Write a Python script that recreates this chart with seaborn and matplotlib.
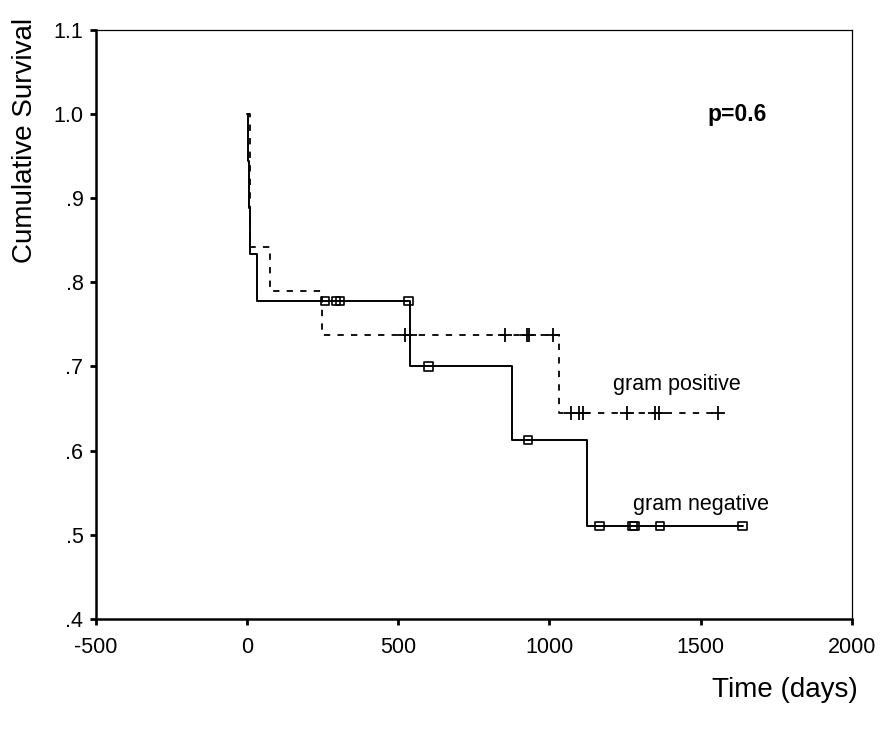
import numpy as np
import pandas as pd
import matplotlib
matplotlib.use('Agg')
import matplotlib.pyplot as plt
import seaborn as sns

# Patient data (days)
neg_events = [4, 7, 10, 32, 539, 875, 1123]
neg_censored = [258, 294, 307, 533, 600, 929, 1165, 1274, 1282, 1366, 1639]
pos_events = [8, 9, 10, 76, 247, 1033]
pos_censored = [522, 539, 853, 925, 931, 1013, 1072, 1098, 1112, 1255, 1349, 1363, 1558]

x_ticks = [-500, 0, 500, 1000, 1500, 2000]
y_ticks = [0.4, 0.5, 0.6, 0.7, 0.8, 0.9, 1.0, 1.1]
y_tick_labels = ['.4', '.5', '.6', '.7', '.8', '.9', '1.0', '1.1']


def kaplan_meier(events, censored):
    df = pd.DataFrame({
        'time': list(events) + list(censored),
        'event': [1] * len(events) + [0] * len(censored),
    }).sort_values(['time', 'event'], ascending=[True, False])
    at_risk = len(df)
    s = 1.0
    step_t, step_s = [0], [1.0]
    cens_t, cens_s = [], []
    for _, row in df.iterrows():
        if row['event'] == 1:
            s = s * (at_risk - 1) / at_risk
            step_t.append(row['time'])
            step_s.append(s)
        else:
            cens_t.append(row['time'])
            cens_s.append(s)
        at_risk -= 1
    last = df['time'].max()
    if step_t[-1] < last:
        step_t.append(last)
        step_s.append(s)
    return step_t, step_s, cens_t, cens_s


sns.set_style('ticks')
plt.rcParams['font.family'] = ['Liberation Sans', 'DejaVu Sans']
for key in ['text.color', 'axes.labelcolor', 'xtick.color', 'ytick.color', 'axes.edgecolor']:
    plt.rcParams[key] = 'black'

fig = plt.figure(figsize=(8.8, 7.29), dpi=100)
ax = fig.add_axes([0.109, 0.151, 0.859, 0.808])

# gram negative - solid line, open squares
nt, ns, nct, ncs = kaplan_meier(neg_events, neg_censored)
sns.lineplot(x=nt, y=ns, ax=ax, drawstyle='steps-post', estimator=None, sort=False,
             color='black', linewidth=1.4)
sns.scatterplot(x=nct, y=ncs, ax=ax, marker='s', s=38, facecolors='none',
                edgecolors='black', linewidth=1.2, zorder=3)

# gram positive - dashed line, plus marks
pt, ps, pct, pcs = kaplan_meier(pos_events, pos_censored)
sns.lineplot(x=pt, y=ps, ax=ax, drawstyle='steps-post', estimator=None, sort=False,
             color='black', linewidth=1.3, linestyle=(0, (3.5, 4)))
sns.scatterplot(x=pct, y=pcs, ax=ax, marker='+', s=110, color='black',
                linewidth=1.3, zorder=3)

ax.set_xlim(-500, 2000)
ax.set_ylim(0.4, 1.1)
ax.set_xticks(x_ticks)
ax.set_xticklabels([str(v) for v in x_ticks])
ax.set_yticks(y_ticks)
ax.set_yticklabels(y_tick_labels)
ax.tick_params(axis='both', labelsize=15.5, length=4, width=2, direction='out')
ax.tick_params(axis='x', pad=9)
ax.tick_params(axis='y', pad=5)

for side in ['left', 'bottom']:
    ax.spines[side].set_linewidth(1.8)
for side in ['top', 'right']:
    ax.spines[side].set_visible(True)
    ax.spines[side].set_linewidth(0.9)

ax.set_xlabel('Time (days)', fontsize=20)
ax.xaxis.set_label_coords(1.008, -0.12)
ax.xaxis.label.set_ha('right')
ax.xaxis.label.set_va('center')
ax.set_ylabel('Cumulative Survival', fontsize=20)
ax.yaxis.set_label_coords(-0.094, 0.813)
ax.yaxis.label.set_va('center')

ax.text(1210, 0.678, 'gram positive', fontsize=15.5, ha='left', va='center')
ax.text(1276, 0.536, 'gram negative', fontsize=15.5, ha='left', va='center')
ax.text(1521, 0.999, 'p=0.6', fontsize=16.5, fontweight='bold', ha='left', va='center')

ax.grid(False)
fig.savefig('out.png', dpi=100)
